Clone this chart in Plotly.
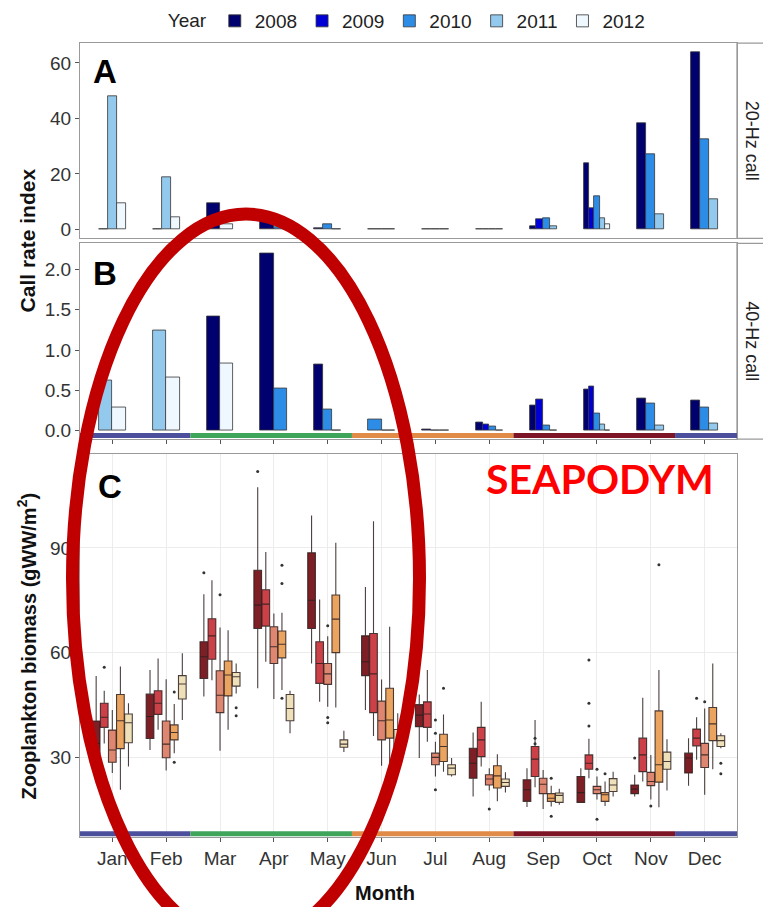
import plotly.graph_objects as go

# ---------------- data ----------------
months = ["Jan", "Feb", "Mar", "Apr", "May", "Jun", "Jul", "Aug", "Sep", "Oct", "Nov", "Dec"]
years = ["2008", "2009", "2010", "2011", "2012"]

# Panel A : 20-Hz call rate index (None = no data that month)
call20_2008 = [None, None, 9.3, 3.5, 0.6, None, 0.1, 0.1, 1.2, 24.0, 38.3, 63.7]
call20_2009 = [None, None, None, None, None, None, None, 0.1, 3.8, 7.7, None, None]
call20_2010 = [0.1, 0.1, None, 0.8, 2.0, 0.1, 0.1, 0.1, 4.2, 12.0, 27.0, 32.6]
call20_2011 = [48.1, 18.9, None, None, None, None, 0.05, 0.05, 1.2, 4.2, 5.6, 10.9]
call20_2012 = [9.3, 4.5, 2.0, None, 0.05, 0.05, None, None, None, 2.0, None, None]

# Panel B : 40-Hz call rate index
call40_2008 = [None, None, 1.42, 2.20, 0.82, None, 0.02, 0.10, 0.31, 0.51, 0.40, 0.37]
call40_2009 = [None, None, None, None, None, None, None, 0.075, 0.39, 0.55, None, None]
call40_2010 = [None, None, None, 0.53, 0.26, 0.14, 0.004, 0.055, 0.06, 0.22, 0.34, 0.29]
call40_2011 = [0.62, 1.25, None, None, None, None, 0.004, 0.004, 0.005, 0.075, 0.07, 0.095]
call40_2012 = [0.29, 0.66, 0.83, None, 0.004, 0.004, None, None, None, 0.005, None, None]

# Panel C : zooplankton biomass box statistics (gWW/m2)
zoo_low_2008 = [25.0, 32.1, 47.4, 49.8, 56.9, 43.6, 29.8, 18.8, 15.8, 17.1, 18.8, 21.9]
zoo_q1_2008 = [31.0, 35.4, 52.6, 66.9, 66.9, 53.4, 38.8, 24.0, 17.4, 17.1, 19.6, 25.5]
zoo_med_2008 = [34.0, 41.7, 58.8, 73.6, 75.0, 57.4, 42.1, 28.3, 20.7, 19.9, 20.9, 29.8]
zoo_q3_2008 = [40.4, 48.1, 63.1, 83.6, 88.6, 64.8, 45.1, 32.6, 23.6, 24.5, 22.1, 31.2]
zoo_high_2008 = [53.3, 55.0, 76.7, 107.4, 99.3, 78.8, 48.0, 37.1, 26.9, 26.9, 25.0, 35.5]

zoo_low_2009 = [34.0, 37.9, 52.1, 57.4, 45.9, 36.1, 34.5, 27.4, 21.4, 24.0, 23.1, 29.3]
zoo_q1_2009 = [38.6, 42.3, 58.1, 67.6, 51.2, 42.8, 38.6, 30.2, 24.5, 26.6, 25.9, 33.3]
zoo_med_2009 = [41.5, 45.5, 64.8, 73.9, 56.9, 53.9, 42.4, 35.0, 29.5, 28.3, 30.7, 35.5]
zoo_q3_2009 = [45.5, 49.1, 69.7, 78.0, 63.1, 65.5, 45.9, 38.6, 33.1, 30.7, 35.5, 38.1]
zoo_high_2009 = [49.1, 58.3, 80.7, 88.8, 75.2, 97.6, 55.0, 45.9, 40.7, 35.3, 47.1, 41.5]

zoo_low_2010 = [25.5, 26.2, 31.9, 46.7, 44.5, 27.6, 24.5, 20.5, 15.2, 17.9, 17.9, 19.3]
zoo_q1_2010 = [28.6, 29.9, 42.8, 56.9, 50.9, 35.0, 27.9, 22.1, 19.6, 19.6, 21.9, 27.1]
zoo_med_2010 = [32.1, 33.8, 47.8, 61.7, 53.9, 40.5, 30.0, 23.8, 22.3, 20.7, 23.1, 30.7]
zoo_q3_2010 = [37.8, 40.4, 54.8, 67.4, 56.9, 46.1, 31.2, 25.0, 24.0, 21.7, 25.7, 34.0]
zoo_high_2010 = [43.6, 52.4, 67.2, 71.2, 64.7, 52.3, 34.5, 26.9, 26.4, 24.5, 30.7, 44.0]

zoo_low_2011 = [20.7, 31.2, 37.9, 49.3, 44.3, 27.4, 25.9, 17.4, 15.9, 16.1, 15.7, 26.6]
zoo_q1_2011 = [32.5, 35.0, 47.6, 58.5, 60.0, 35.5, 28.8, 21.2, 17.4, 17.4, 22.9, 34.8]
zoo_med_2011 = [40.5, 37.1, 53.6, 62.4, 69.6, 40.7, 33.1, 24.7, 18.3, 19.3, 27.9, 39.6]
zoo_q3_2011 = [48.0, 39.3, 57.6, 66.2, 76.5, 49.8, 36.6, 27.6, 19.6, 19.9, 43.3, 44.3]
zoo_high_2011 = [56.0, 45.3, 66.4, 71.4, 91.5, 67.4, 42.3, 30.9, 21.9, 23.1, 55.0, 56.9]

zoo_low_2012 = [27.4, 40.7, 48.3, 36.9, 31.5, 30.5, 24.5, 19.9, 16.4, 18.8, 20.5, 32.6]
zoo_q1_2012 = [34.2, 46.7, 50.4, 40.5, 32.9, 32.0, 25.0, 21.7, 17.1, 20.2, 26.6, 33.1]
zoo_med_2012 = [39.9, 51.0, 53.1, 44.0, 33.8, 33.8, 26.9, 22.8, 19.1, 22.1, 28.8, 34.8]
zoo_q3_2012 = [42.4, 53.4, 54.3, 48.0, 35.0, 38.0, 27.9, 23.8, 19.8, 23.9, 31.5, 36.2]
zoo_high_2012 = [45.5, 59.8, 56.9, 49.1, 37.6, 42.6, 29.8, 25.7, 21.0, 25.9, 35.2, 36.9]

# outliers: month index (1-12), year, value
out_month = [1, 2, 2, 3, 3, 3, 3, 4, 4, 4, 4, 5, 5, 5, 7, 7, 7, 7, 8, 9, 9, 9, 9,
             10, 10, 10, 10, 10, 10, 11, 11, 11, 12, 12, 12, 12]
out_year = ["2009", "2011", "2011", "2008", "2010", "2012", "2012", "2008", "2011", "2011", "2011",
            "2010", "2010", "2010", "2010", "2010", "2010", "2011", "2010", "2009", "2009", "2011", "2011",
            "2009", "2009", "2009", "2010", "2010", "2011", "2008", "2010", "2011",
            "2009", "2010", "2012", "2012"]
out_value = [55.8, 48.7, 28.6, 82.9, 76.6, 44.2, 41.9, 111.9, 85.0, 79.8, 46.9,
             67.7, 41.4, 39.9, 40.7, 36.9, 20.7, 49.8, 15.2, 35.5, 33.9, 24.0, 13.1,
             39.0, 45.5, 57.9, 26.6, 12.3, 25.3, 29.8, 16.1, 85.2,
             46.9, 45.9, 28.3, 25.3]

# seasons shown as coloured bars under panels B and C
season_start = [0.4, 2.45, 5.45, 8.45, 11.45]
season_end = [2.45, 5.45, 8.45, 11.45, 12.6]
season_color = ["#4b4f9c", "#3ea55a", "#e08b48", "#7e1526", "#4b4f9c"]

# ---------------- styles ----------------
bar_colors = ["#00006e", "#0000d6", "#2d8de6", "#93c9ec", "#f0f8ff"]
box_colors = ["#7d1f25", "#cc4148", "#de8670", "#eba460", "#eee0b8"]
FONT = "Liberation Sans, Arial, sans-serif"

call20 = [call20_2008, call20_2009, call20_2010, call20_2011, call20_2012]
call40 = [call40_2008, call40_2009, call40_2010, call40_2011, call40_2012]
zoo = [
    (zoo_low_2008, zoo_q1_2008, zoo_med_2008, zoo_q3_2008, zoo_high_2008),
    (zoo_low_2009, zoo_q1_2009, zoo_med_2009, zoo_q3_2009, zoo_high_2009),
    (zoo_low_2010, zoo_q1_2010, zoo_med_2010, zoo_q3_2010, zoo_high_2010),
    (zoo_low_2011, zoo_q1_2011, zoo_med_2011, zoo_q3_2011, zoo_high_2011),
    (zoo_low_2012, zoo_q1_2012, zoo_med_2012, zoo_q3_2012, zoo_high_2012),
]


def dodge(series, total=0.5):
    """ggplot-like dodge: bars present in a month share the group width."""
    res = {i: ([], [], []) for i in range(len(series))}
    for m in range(12):
        present = [i for i in range(len(series)) if series[i][m] is not None]
        n = len(present)
        if n == 0:
            continue
        w = total / n
        for k, i in enumerate(present):
            res[i][0].append(m + 1 + (k - (n - 1) / 2) * w)
            res[i][1].append(series[i][m])
            res[i][2].append(w)
    return res


fig = go.Figure()

for panel, (series, xa, ya) in enumerate([(call20, "x", "y"), (call40, "x2", "y2")]):
    d = dodge(series)
    for i, yr in enumerate(years):
        xs, ys, ws = d[i]
        fig.add_trace(go.Bar(
            x=xs, y=ys, width=ws, name=yr, legendgroup=yr,
            showlegend=(panel == 0), xaxis=xa, yaxis=ya,
            marker=dict(color=bar_colors[i], line=dict(color="#333333", width=0.8)),
            hoverinfo="skip",
        ))

box_w = 0.15
for i, yr in enumerate(years):
    low, q1, med, q3, high = zoo[i]
    xs = [m + 1 + (i - 2) * box_w for m in range(12)]
    fig.add_trace(go.Box(
        x=xs, lowerfence=low, q1=q1, median=med, q3=q3, upperfence=high,
        width=box_w * 0.95, boxpoints=False, whiskerwidth=0,
        fillcolor=box_colors[i], line=dict(color="rgba(45,30,30,0.85)", width=1.1),
        showlegend=False, xaxis="x3", yaxis="y3", hoverinfo="skip",
    ))

ox = [m + (years.index(y) - 2) * box_w for m, y in zip(out_month, out_year)]
fig.add_trace(go.Scatter(
    x=ox, y=out_value, mode="markers", marker=dict(size=3, color="#333333"),
    showlegend=False, xaxis="x3", yaxis="y3", hoverinfo="skip",
))

W, H = 763, 907
xdom = [80 / W, 737 / W]
domA = [1 - 239 / H, 1 - 43.3 / H]
domB = [1 - 440 / H, 1 - 244 / H]
domC = [1 - 839 / H, 1 - 455 / H]

tickfont = dict(family=FONT, size=19, color="#333333")
border = dict(showline=True, mirror=True, linecolor="#9a9a9a", linewidth=1.3, zeroline=False)

fig.update_layout(
    width=W, height=H, autosize=False,
    margin=dict(l=0, r=0, t=0, b=0),
    paper_bgcolor="white", plot_bgcolor="white",
    barmode="overlay", boxmode="overlay", bargap=0,
    font=dict(family=FONT, color="#222222"),
    legend=dict(orientation="h", x=0.535, xanchor="center", y=1 - 2 / H, yanchor="top",
                title=dict(text="Year", font=dict(family=FONT, size=19, color="#222")),
                font=dict(family=FONT, size=19, color="#222"), itemwidth=30,
                tracegroupgap=0),
    xaxis=dict(domain=xdom, anchor="y", range=[0.4, 12.6], showticklabels=False,
               ticks="", showgrid=False, **border),
    yaxis=dict(domain=domA, anchor="x", range=[-3.23, 67.1], tickvals=[0, 20, 40, 60],
               ticks="outside", ticklen=4, tickcolor="#555", tickfont=tickfont,
               showgrid=False, **border),
    xaxis2=dict(domain=xdom, anchor="y2", range=[0.4, 12.6], tickvals=list(range(1, 13)),
                showticklabels=False, ticks="outside", ticklen=4, tickcolor="#555",
                showgrid=False, **border),
    yaxis2=dict(domain=domB, anchor="x2", range=[-0.103, 2.323],
                tickvals=[0, 0.5, 1.0, 1.5, 2.0], ticktext=["0.0", "0.5", "1.0", "1.5", "2.0"],
                ticks="outside", ticklen=4, tickcolor="#555", tickfont=tickfont,
                showgrid=False, **border),
    xaxis3=dict(domain=xdom, anchor="y3", range=[0.4, 12.6], tickvals=list(range(1, 13)),
                ticktext=months, ticks="outside", ticklen=4, tickcolor="#555",
                tickfont=tickfont, showgrid=True, gridcolor="#ececec", gridwidth=1, **border),
    yaxis3=dict(domain=domC, anchor="x3", range=[7.14, 116.9], tickvals=[30, 60, 90],
                ticks="outside", ticklen=4, tickcolor="#555", tickfont=tickfont,
                showgrid=True, gridcolor="#ececec", gridwidth=1, **border),
)

shapes = []
# season bars
for xa, ya, yy in [("x2", "y2 domain", 0.018), ("x3", "y3 domain", 0.009)]:
    for s0, s1, c in zip(season_start, season_end, season_color):
        shapes.append(dict(type="line", xref=xa, yref=ya, x0=s0, x1=s1, y0=yy, y1=yy,
                           line=dict(color=c, width=5), layer="above"))
# facet strips on the right
for dom in (domA, domB):
    shapes.append(dict(type="rect", xref="paper", yref="paper", x0=737 / W, x1=1.05,
                       y0=dom[0], y1=dom[1], fillcolor="white",
                       line=dict(color="#9a9a9a", width=1.3), layer="below"))
# red ellipse highlight
shapes.append(dict(type="circle", xref="paper", yref="paper",
                   x0=72.5 / W, x1=419.5 / W, y0=1 - 945.5 / H, y1=1 - 214.5 / H,
                   line=dict(color="#c00000", width=13), layer="above"))
fig.update_layout(shapes=shapes)


def note(text, px, py, size, color="#111", angle=0, family=FONT):
    return dict(text=text, x=px / W, y=1 - py / H, xref="paper", yref="paper",
                xanchor="center", yanchor="middle", textangle=angle, showarrow=False,
                font=dict(family=family, size=size, color=color))


ann = [
    note("20-Hz call", 752, (43.3 + 239) / 2, 18, "#222", 90),
    note("40-Hz call", 752, (244 + 440) / 2, 18, "#222", 90),
    note("<b>A</b>", 105, 71.5, 33, "black"),
    note("<b>B</b>", 104.5, 274.5, 33, "black"),
    note("<b>C</b>", 110, 487.5, 33, "black"),
    note("<b>Call rate index</b>", 27, 241, 21, "#111", -90),
    note("<b>Zooplankton biomass (gWW/m<sup>2</sup>)</b>", 27, 648, 20, "#111", -90),
    note("<b>Month</b>", 385, 895, 20, "#111"),
    note("<b>SEAPODYM</b>", 600, 480, 41, "#ff0000", 0, "Lato, Open Sans, sans-serif"),
]
fig.update_layout(annotations=ann)

fig.write_html("out.html")
